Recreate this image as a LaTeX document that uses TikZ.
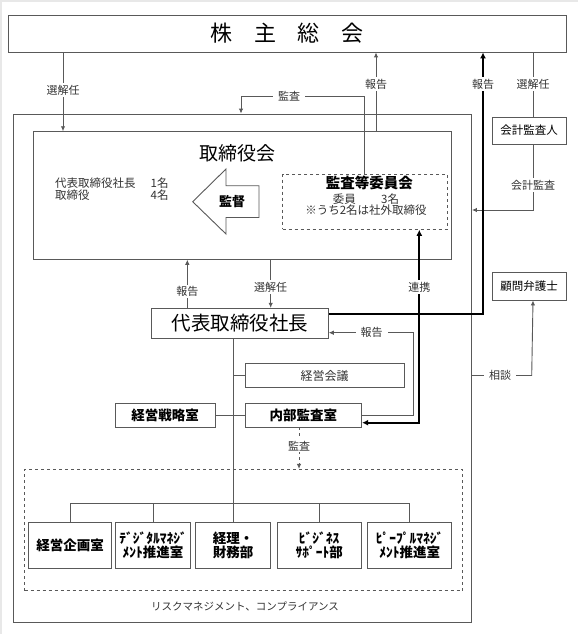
\documentclass[tikz,border=0pt]{standalone}
\usepackage{fontspec}
\setmainfont{Noto Sans CJK JP}
\usetikzlibrary{arrows.meta,calc}
\newcommand{\fs}[1]{\fontsize{#1}{#1}\selectfont}
\begin{document}
\begin{tikzpicture}[x=1pt,y=-1pt,
  ln/.style={draw=black!65,line width=0.9pt},
  box/.style={ln,rectangle,inner sep=0pt,fill=white,align=center},
  arr/.style={ln,-{Latex[length=5pt,width=4.5pt]}},
  thk/.style={draw=black,line width=2.3pt},
  thkarr/.style={thk,-{Latex[length=6pt,width=6pt]}},
  lbl/.style={fill=white,inner sep=1.5pt,font=\fs{11},text=black!80},
  bt/.style={font=\fs{13.5}\bfseries},
]
\useasboundingbox (0,0) rectangle (578,634);
\fill[black!9] (0,0) rectangle (578,634);
\fill[white] (2,2) rectangle (578,634);

% coordinates for x positions
\coordinate (xA) at (63,0);
\coordinate (xR1) at (376,0);
\coordinate (xR2) at (483,0);
\coordinate (xR3) at (533,0);
\coordinate (xK) at (364,0);
\coordinate (xK2) at (241,0);
\coordinate (xP1) at (187.3,0);
\coordinate (xP2) at (270.7,0);
\coordinate (xL) at (419.3,0);
\coordinate (xH) at (413.3,0);
\coordinate (xS) at (299,0);
\coordinate (y96) at (0,96);
\coordinate (y210) at (0,210);
\coordinate (y314) at (0,314);
\coordinate (y333) at (0,332.7);
\coordinate (y375) at (0,375.5);
\coordinate (y415) at (0,415);
\coordinate (y423) at (0,422.7);
\coordinate (ybar) at (0,503.3);

% boxes
\node[box,minimum width=558.5,minimum height=37] (gm) at (287.25,33.5) {};
\node[font=\fs{22}] (gmt) at (287,33.5) {株\hspace{21.8pt}主\hspace{21.8pt}総\hspace{21.8pt}会};
\node[box,minimum width=457.9,minimum height=508] (outer) at (242.55,368) {};
\node[box,minimum width=418,minimum height=127.6] (bod) at (242.7,195.5) {};
\node[font=\fs{19}] (bodt) at (237,153) {取締役会};
\node[anchor=west,font=\fs{11.5},text=black!80,align=left,inner sep=0pt] (bodm) at (55,189)
  {代表取締役社長\\取締役};
\node[anchor=west,font=\fs{11.5},text=black!80,align=left,inner sep=0pt] (bodn) at (150.5,189)
  {1名\\4名};
\node[box,dashed,minimum width=164.6,minimum height=55.3] (ac) at (365,201.65) {};
\node[font=\fs{14.5}\bfseries] (act) at (369.3,183) {監査等委員会};
\node[font=\fs{11.5},text=black!80,align=center,inner sep=0pt] (acm) at (366,204.5)
  {委員\hspace{2.2em}3名\\※うち2名は社外取締役};
\node[box,minimum width=74,minimum height=27,font=\fs{11.5}] (aud) at (529,130.5) {会計監査人};
\node[box,minimum width=74,minimum height=27.3,font=\fs{11.5}] (law) at (529,286.35) {顧問弁護士};
\node[box,minimum width=176.6,minimum height=30,font=\fs{19.5}] (pres) at (240,323.3) {代表取締役社長};
\node[box,minimum width=159.3,minimum height=24.4,font=\fs{12},text=black!80] (mtg) at (324.65,375.5) {経営会議};
\node[box,minimum width=116.7,minimum height=23.7,bt] (ia) at (303.35,415.15) {内部監査室};
\node[box,minimum width=100,minimum height=23.7,bt] (strat) at (165,415.15) {経営戦略室};
\node[box,dashed,minimum width=437.9,minimum height=121.4] (deps) at (243.65,530) {};
\node[box,minimum width=82.6,minimum height=46,bt] (d1) at (70,545.3) {経営企画室};
\node[box,minimum width=75.2,minimum height=46,bt] (d2) at (153,545.3) {ﾃﾞｼﾞﾀﾙﾏﾈｼﾞ\\ﾒﾝﾄ推進室};
\node[box,minimum width=74.8,minimum height=46,bt] (d3) at (233.2,545.3) {経理・\\財務部};
\node[box,minimum width=84,minimum height=46,bt] (d4) at (319.2,545.3) {ﾋﾞｼﾞﾈｽ\\ｻﾎﾟｰﾄ部};
\node[box,minimum width=83.6,minimum height=46,bt] (d5) at (409.7,545.3) {ﾋﾟｰﾌﾟﾙﾏﾈｼﾞ\\ﾒﾝﾄ推進室};
\node[font=\fs{10.5},text=black!80] (risk) at (245,606.5) {リスクマネジメント、コンプライアンス};

% 監督 arrow
\draw[ln,fill=white] (192.7,201.7) -- (226,169) -- (226,185.7) -- (259,185.7) -- (259,217.5)
  -- (226,217.5) -- (226,234) -- cycle;
\node[font=\fs{13}\bfseries] (kan) at (232,201.7) {監督};

% connectors
\draw[arr] (gm.south -| xA) -- (bod.north -| xA);
\node[lbl] at (63,90) {選解任};

\draw[arr] (ac.north -| xK) -- (xK |- y96) -- (xK2 |- y96) -- (outer.north -| xK2);
\node[lbl,inner xsep=5pt] at (289,96) {監査};

\draw[arr] (bod.north -| xR1) -- (gm.south -| xR1);
\node[lbl] at (376,84) {報告};

\draw[ln] (gm.south -| xR3) -- (aud.north -| xR3);
\node[lbl] at (533,84) {選解任};

\draw[arr] (aud.south -| xR3) -- (xR3 |- y210) -- (outer.east |- y210);
\node[lbl] at (533,185) {会計監査};

\draw[arr] (pres.north -| xP1) -- (bod.south -| xP1);
\node[lbl] at (187.3,291.5) {報告};
\draw[arr] (bod.south -| xP2) -- (pres.north -| xP2);
\node[lbl] at (270.7,287) {選解任};

\draw[arr] (ia.east |- y415) -- (xH |- y415) -- (xH |- y333) -- (pres.east |- y333);
\node[lbl,inner xsep=5pt] at (371.7,332.7) {報告};

\draw[arr] (outer.east |- y375) -- (531.7,375.5) -- (law.south -| xR3);
\node[lbl,inner xsep=5pt] at (500,375.5) {相談};

\draw[thkarr] (pres.east |- y314) -- (xR2 |- y314) -- (gm.south -| xR2);
\node[lbl] at (483,84) {報告};

\draw[thk,{Latex[length=6pt,width=6pt]}-{Latex[length=6pt,width=6pt]}] (ia.east |- y423) -- (xL |- y423) -- (ac.south -| xL);
\node[lbl] at (419.3,287) {連携};

\draw[arr,dashed] (ia.south -| xS) -- (deps.north -| xS);
\node[lbl] at (299,445.7) {監査};

% tree
\draw[ln] (pres.south -| d3.north) -- (d3.north);
\draw[ln] (mtg.west) -- (mtg.west -| d3.north);
\draw[ln] (strat.east) -- (ia.west);
\draw[ln] (d1.north) -- (d1.north |- ybar) -- (d5.north |- ybar) -- (d5.north);
\draw[ln] (d2.north) -- (d2.north |- ybar);
\draw[ln] (d4.north) -- (d4.north |- ybar);
\end{tikzpicture}
\end{document}
